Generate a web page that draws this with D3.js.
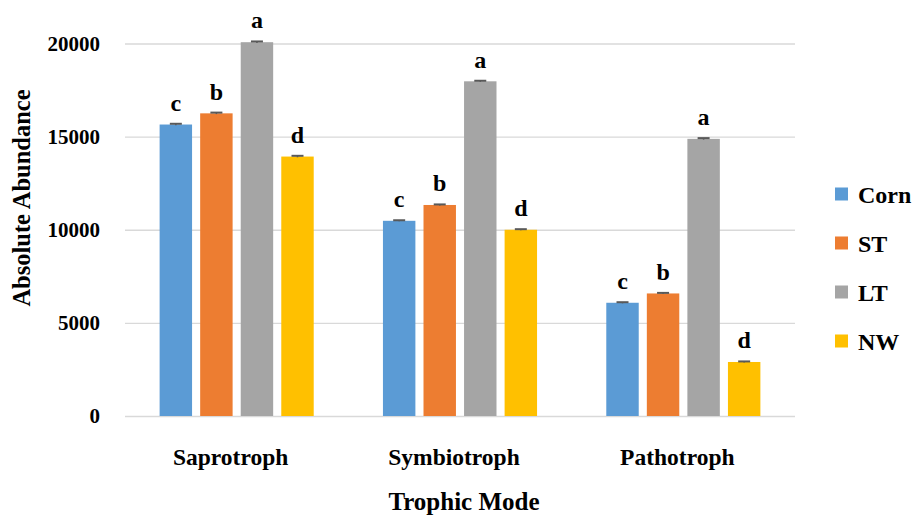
<!DOCTYPE html>
<html>
<head>
<meta charset="utf-8">
<script src="https://cdn.jsdelivr.net/npm/d3@7/dist/d3.min.js"></script>
<style>
  html, body { margin: 0; padding: 0; background: #fff; }
  svg { display: block; }
  text { font-family: "Liberation Serif", "Times New Roman", serif; font-weight: bold; fill: #000; }
</style>
</head>
<body>
<svg id="chart" width="912" height="517"></svg>
<script>
const categories = ["Saprotroph", "Symbiotroph", "Pathotroph"];
const series = ["Corn", "ST", "LT", "NW"];
const colors = ["#5b9bd5", "#ed7d31", "#a5a5a5", "#ffc000"];
const cornValues = [15650, 10480, 6080];
const stValues = [16250, 11330, 6580];
const ltValues = [20070, 17970, 14880];
const nwValues = [13930, 10000, 2900];
const errorValues = [[40, 30, 30], [40, 30, 30], [40, 30, 40], [40, 30, 30]];
const letters = [["c", "c", "c"], ["b", "b", "b"], ["a", "a", "a"], ["d", "d", "d"]];
const yTicks = [0, 5000, 10000, 15000, 20000];
const yLabel = "Absolute Abundance";
const xLabel = "Trophic Mode";

const values = [cornValues, stValues, ltValues, nwValues];

const svg = d3.select("#chart");
const plotLeft = 125, plotRight = 795;

const x0 = d3.scaleBand().domain(categories).range([plotLeft, plotRight])
  .paddingInner(0.31).paddingOuter(0.155);
const x1 = d3.scaleBand().domain(series).range([0, x0.bandwidth()]).paddingInner(0.2);
const y = d3.scaleLinear().domain([0, 20000]).range([416, 43.5]);
const color = d3.scaleOrdinal().domain(series).range(colors);

// gridlines
const yAxis = d3.axisLeft(y).tickValues(yTicks).tickSize(-(plotRight - plotLeft)).tickPadding(25)
  .tickFormat(d3.format("d"));
const gy = svg.append("g").attr("transform", `translate(${plotLeft},0)`).call(yAxis);
gy.select(".domain").remove();
gy.selectAll(".tick line").attr("stroke", "#d9d9d9").attr("stroke-width", 1.3);
gy.selectAll(".tick text").attr("font-size", 21).attr("font-family", "Liberation Serif, serif")
  .attr("font-weight", "bold").attr("fill", "#000");

// bars
const data = [];
series.forEach((s, si) => {
  categories.forEach((c, ci) => {
    data.push({ s, c, v: values[si][ci], e: errorValues[si][ci], l: letters[si][ci] });
  });
});

const g = svg.append("g");
g.selectAll("rect.bar").data(data).enter().append("rect")
  .attr("class", "bar")
  .attr("x", d => x0(d.c) + x1(d.s))
  .attr("y", d => y(d.v))
  .attr("width", x1.bandwidth())
  .attr("height", d => y(0) - y(d.v))
  .attr("fill", d => color(d.s));

// error bars
const capW = 12;
g.selectAll("line.err").data(data).enter().append("line")
  .attr("x1", d => x0(d.c) + x1(d.s) + x1.bandwidth() / 2)
  .attr("x2", d => x0(d.c) + x1(d.s) + x1.bandwidth() / 2)
  .attr("y1", d => y(d.v - d.e)).attr("y2", d => y(d.v + d.e))
  .attr("stroke", "#595959").attr("stroke-width", 1.5);
g.selectAll("line.cap").data(data).enter().append("line")
  .attr("x1", d => x0(d.c) + x1(d.s) + x1.bandwidth() / 2 - capW / 2)
  .attr("x2", d => x0(d.c) + x1(d.s) + x1.bandwidth() / 2 + capW / 2)
  .attr("y1", d => y(d.v + d.e)).attr("y2", d => y(d.v + d.e))
  .attr("stroke", "#595959").attr("stroke-width", 2);

// letters
g.selectAll("text.letter").data(data).enter().append("text")
  .attr("x", d => x0(d.c) + x1(d.s) + x1.bandwidth() / 2)
  .attr("y", d => y(d.v + d.e) - 13)
  .attr("text-anchor", "middle")
  .attr("font-size", 24)
  .text(d => d.l);

// category labels
svg.append("g").selectAll("text").data(categories).enter().append("text")
  .attr("x", d => x0(d) + x0.bandwidth() / 2 - 6)
  .attr("y", 465)
  .attr("text-anchor", "middle")
  .attr("font-size", 23.5)
  .text(d => d);

// axis titles
svg.append("text")
  .attr("transform", "translate(30,198) rotate(-90)")
  .attr("text-anchor", "middle")
  .attr("font-size", 24.5)
  .text(yLabel);
svg.append("text")
  .attr("x", 464).attr("y", 510)
  .attr("text-anchor", "middle")
  .attr("font-size", 25)
  .text(xLabel);

// legend
const legend = svg.append("g").attr("transform", "translate(835,0)");
const ly = d3.scaleBand().domain(series).range([170, 366]);
series.forEach(s => {
  const cy = ly(s) + ly.bandwidth() / 2;
  legend.append("rect").attr("x", 0).attr("y", cy - 7).attr("width", 13).attr("height", 13)
    .attr("fill", color(s));
  legend.append("text").attr("x", 23).attr("y", cy + 8).attr("font-size", 24).text(s);
});
</script>
</body>
</html>
